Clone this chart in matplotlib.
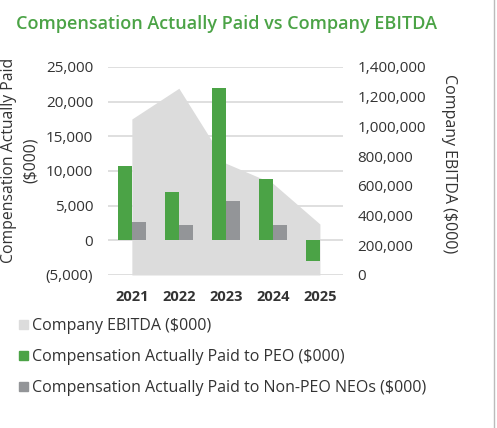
import matplotlib
matplotlib.use("Agg")
import matplotlib.pyplot as plt
from matplotlib.patches import Patch
from matplotlib.lines import Line2D
import numpy as np

# data
years = ['2021', '2022', '2023', '2024', '2025']
ebitda = [1050000, 1257000, 752000, 617000, 343000]
cap_peo = [10700, 7000, 22000, 8800, -3000]
cap_neo = [2650, 2250, 5650, 2150, 100]

left_ticks = [-5000, 0, 5000, 10000, 15000, 20000, 25000]
right_ticks = [0, 200000, 400000, 600000, 800000, 1000000, 1200000, 1400000]

green = '#4ba346'
gray_bar = '#939598'
area_col = '#dcdcdc'
grid_col = '#d9d9d9'
text_col = '#333333'

plt.rcParams['font.family'] = ['Open Sans', 'DejaVu Sans']

fig = plt.figure(figsize=(4.97, 4.28), dpi=100)
ax = fig.add_axes([0.218, 0.3575, 0.473, 0.486])
ax2 = ax.twinx()
ax3 = ax.twinx()

x = np.arange(len(years))

# left axis: gridlines and ticks
ax.set_ylim(-5000, 25000)
ax.set_yticks(left_ticks)
ax.set_yticklabels(['(5,000)' if v < 0 else f'{v:,}' for v in left_ticks])
ax.grid(axis='y', color=grid_col, linewidth=1.2)
ax.set_xlim(-0.5, len(years) - 0.5)
ax.set_xticks(x)
ax.set_xticklabels(years, fontweight='bold', fontsize=10.5)
ax.tick_params(axis='both', length=0, colors=text_col)
ax.tick_params(axis='y', pad=11, labelsize=11)
ax.tick_params(axis='x', pad=11)
for s in ax.spines.values():
    s.set_visible(False)

# right axis: EBITDA area
ax2.fill_between(x, 0, ebitda, color=area_col, linewidth=0)
ax2.set_ylim(0, 1400000)
ax2.set_yticks(right_ticks)
ax2.set_yticklabels([f'{v:,}' for v in right_ticks])
ax2.tick_params(axis='y', length=0, labelsize=11, colors=text_col, pad=10)
for s in ax2.spines.values():
    s.set_visible(False)

# bars on top
w = 0.3
ax3.bar(x - w / 2, cap_peo, w, color=green)
ax3.bar(x + w / 2, cap_neo, w, color=gray_bar)
ax3.set_ylim(ax.get_ylim())
ax3.set_yticks([])
for s in ax3.spines.values():
    s.set_visible(False)

fig.text(0.040, 0.626, 'Compensation Actually Paid\n($000)', fontsize=11.3,
         color=text_col, rotation=90, ha='center', va='center', linespacing=1.45)
fig.text(0.903, 0.617, 'Company EBITDA ($000)', fontsize=11.5, color=text_col,
         rotation=270, ha='center', va='center')

fig.text(0.033, 0.944, 'Compensation Actually Paid vs Company EBITDA', fontsize=13,
         fontweight='semibold', color=green, va='center')

handles = [Patch(color=area_col), Patch(color=green), Patch(color=gray_bar)]
labels = ['Company EBITDA ($000)', 'Compensation Actually Paid to PEO ($000)',
          'Compensation Actually Paid to Non-PEO NEOs ($000)']
leg = fig.legend(handles, labels, loc='upper left', bbox_to_anchor=(0.026, 0.272),
                 frameon=False, fontsize=11.5, handlelength=0.55, handleheight=0.55,
                 handletextpad=0.25, labelspacing=0.95, borderaxespad=0)
for t in leg.get_texts():
    t.set_color(text_col)

fig.add_artist(Line2D([0.994, 0.994], [0, 1], color='#bbbbbb', linewidth=1))

fig.savefig('out.png', dpi=100)
